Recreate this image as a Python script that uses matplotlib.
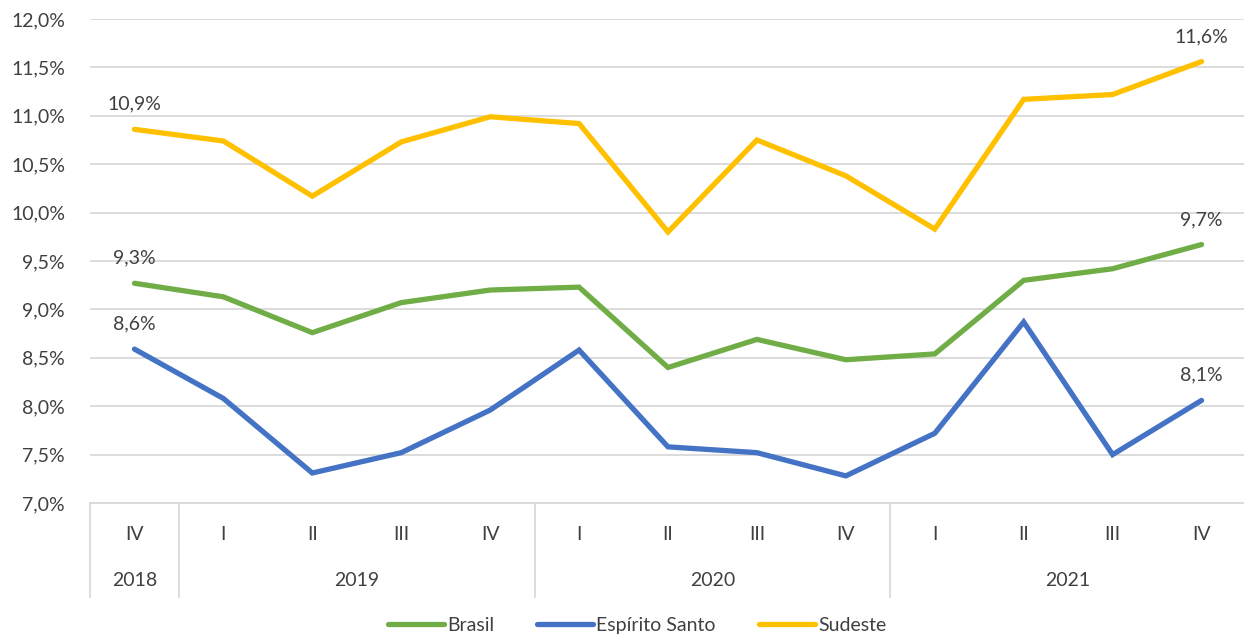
import matplotlib.pyplot as plt
from matplotlib.ticker import FuncFormatter

plt.rcParams['font.family'] = ['Lato', 'DejaVu Sans']

quarters = ['IV', 'I', 'II', 'III', 'IV', 'I', 'II', 'III', 'IV', 'I', 'II', 'III', 'IV']
years = ['2018', '2019', '2020', '2021']
year_spans = [(0, 0), (1, 4), (5, 8), (9, 12)]

brasil = [9.27, 9.13, 8.76, 9.07, 9.20, 9.23, 8.40, 8.69, 8.48, 8.54, 9.30, 9.42, 9.67]
espirito_santo = [8.59, 8.08, 7.31, 7.52, 7.96, 8.58, 7.58, 7.52, 7.28, 7.72, 8.87, 7.50, 8.06]
sudeste = [10.86, 10.74, 10.17, 10.73, 10.99, 10.92, 9.80, 10.75, 10.38, 9.83, 11.17, 11.22, 11.56]

cores = {'Brasil': '#70AD47', 'Espírito Santo': '#4472C4', 'Sudeste': '#FFC000'}
txt = '#404040'
grid = '#D9D9D9'
fs = 14

fig = plt.figure(figsize=(12.44, 6.44), dpi=100)
ax = fig.add_axes([90 / 1244, 1 - 503 / 644, 1156 / 1244, 484 / 644])

x = list(range(len(quarters)))
for nome, serie in [('Brasil', brasil), ('Espírito Santo', espirito_santo), ('Sudeste', sudeste)]:
    ax.plot(x, serie, color=cores[nome], lw=3.8, solid_capstyle='round', solid_joinstyle='miter', label=nome, zorder=3)
    for i in (0, len(serie) - 1):
        ax.annotate(f'{serie[i]:.1f}%'.replace('.', ','), (x[i], serie[i]), xytext=(0, 12),
                    textcoords='offset points', ha='center', va='bottom', fontsize=fs, color=txt)

ax.set_xlim(-0.5, len(quarters) - 0.5)
ax.set_ylim(7.0, 12.0)
ax.set_yticks([7.0 + 0.5 * k for k in range(11)])
ax.yaxis.set_major_formatter(FuncFormatter(lambda v, p: f'{v:.1f}%'.replace('.', ',')))
ax.tick_params(axis='y', length=0, labelsize=fs, labelcolor=txt, pad=18)
ax.set_xticks([])
ax.grid(axis='y', color=grid, lw=1.3)
ax.set_axisbelow(True)
for s in ['top', 'right', 'left']:
    ax.spines[s].set_visible(False)
ax.spines['bottom'].set_color(grid)
ax.spines['bottom'].set_linewidth(1.3)

# tabela de categorias abaixo do eixo
tr = ax.get_xaxis_transform()
for i, q in enumerate(quarters):
    ax.text(i, -0.066, q, transform=tr, ha='center', va='center', fontsize=fs, color=txt)
for (a, b), ano in zip(year_spans, years):
    ax.text((a + b) / 2, -0.16, ano, transform=tr, ha='center', va='center', fontsize=fs, color=txt)
for a, b in year_spans:
    ax.plot([a - 0.5, a - 0.5], [0, -0.194], transform=tr, color=grid, lw=1.3, clip_on=False)
ax.plot([12.5, 12.5], [0, -0.194], transform=tr, color=grid, lw=1.3, clip_on=False)

leg = fig.legend(loc='lower center', bbox_to_anchor=(0.512, -0.012), ncol=3, frameon=False,
                 fontsize=fs, handlelength=2.9, handletextpad=0.15, columnspacing=2.2)
for t in leg.get_texts():
    t.set_color(txt)

fig.savefig('out.png', dpi=100)
